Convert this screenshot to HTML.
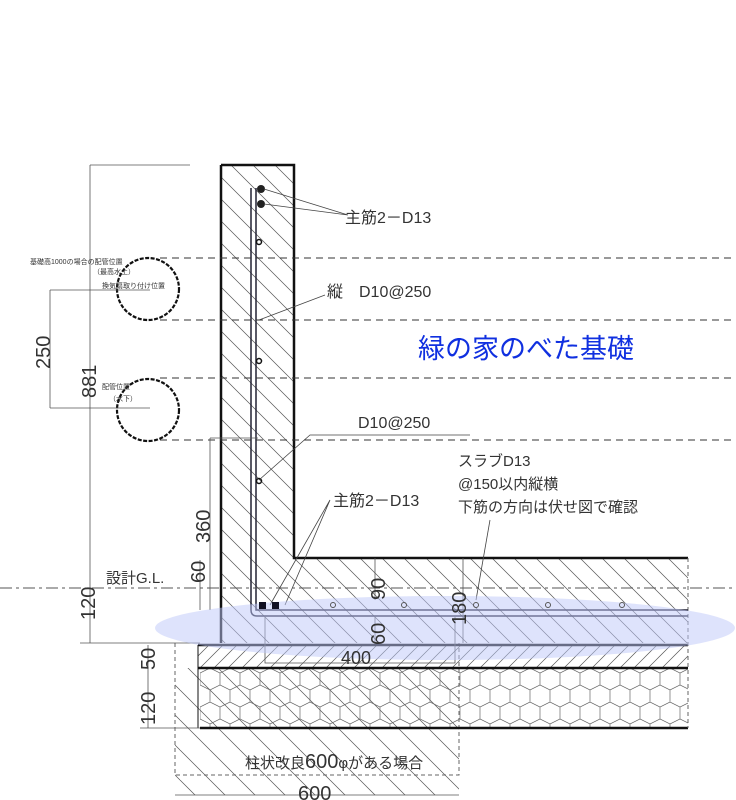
<!DOCTYPE html>
<html><head><meta charset="utf-8"><style>
html,body{margin:0;padding:0;background:#fff;}
svg{display:block;}
text{font-family:"Liberation Sans","Noto Sans CJK JP",sans-serif;fill:#333;}
</style></head><body>
<svg width="736" height="800" viewBox="0 0 736 800" xmlns="http://www.w3.org/2000/svg">
<defs>
<pattern id="hb" patternUnits="userSpaceOnUse" width="22" height="22">
<path d="M-2,-2 L24,24 M-13,9 L2,24 M9,-13 L35,13" stroke="#555" stroke-width="0.7"/>
</pattern>
<pattern id="hf" patternUnits="userSpaceOnUse" width="14" height="14">
<path d="M0,14 L14,0 M-7,7 L7,-7 M7,21 L21,7" stroke="#555" stroke-width="0.7"/>
</pattern>
<pattern id="hx" patternUnits="userSpaceOnUse" width="20" height="34" x="200" y="668">
<path d="M0,5 L10,0 L20,5 L20,17 L10,22 L0,17 Z M10,22 L10,34 M0,17 L0,5" fill="none" stroke="#666" stroke-width="0.7"/>
</pattern>
<pattern id="hc" patternUnits="userSpaceOnUse" width="30" height="30">
<path d="M0,0 L30,30 M-15,15 L0,30 M15,-15 L45,15" stroke="#555" stroke-width="0.7"/>
</pattern>
</defs>
<rect x="175" y="668" width="284" height="127" fill="url(#hc)"/>
<path d="M175,643 V775 H459 V643" fill="none" stroke="#666" stroke-dasharray="4,3"/>
<path d="M221,165 H294 V558 H688 V643 H221 Z" fill="url(#hb)"/>
<path d="M221,165 H294 V558 H688" fill="none" stroke="#111" stroke-width="2.5"/>
<line x1="221" y1="165" x2="221" y2="643" stroke="#111" stroke-width="2.5"/>
<rect x="198" y="645" width="490" height="23" fill="url(#hf)"/>
<rect x="200" y="668" width="488" height="60" fill="url(#hx)"/>
<line x1="198" y1="645" x2="688" y2="645" stroke="#111" stroke-width="2.5"/>
<line x1="198" y1="668" x2="688" y2="668" stroke="#111" stroke-width="2.5"/>
<line x1="200" y1="728" x2="688" y2="728" stroke="#111" stroke-width="2.5"/>
<line x1="198" y1="645" x2="198" y2="728" stroke="#111" stroke-width="1"/>
<line x1="688" y1="558" x2="688" y2="728" stroke="#666" stroke-dasharray="4,3"/>
<path d="M251,188 V610 Q251,616 257,616 H688" fill="none" stroke="#223" stroke-width="1.5"/>
<path d="M256,188 V610 H688" fill="none" stroke="#223" stroke-width="1.5"/>
<circle cx="261" cy="189" r="4" fill="#222"/><circle cx="261" cy="204" r="4" fill="#222"/>
<circle cx="259" cy="242" r="2.5" fill="none" stroke="#111" stroke-width="1.5"/>
<circle cx="259" cy="361" r="2.5" fill="none" stroke="#111" stroke-width="1.5"/>
<circle cx="259" cy="481" r="2.5" fill="none" stroke="#111" stroke-width="1.5"/>
<g stroke="#444" stroke-width="0.8" fill="none">
<path d="M264,189 L348,215 M264,204 L348,215"/>
<path d="M259,320 L325,295"/>
<path d="M259,480 L310,435 H470"/>
<path d="M270,605 L330,500 M285,605 L330,500"/>
<path d="M476,600 L490,520"/>
</g>
<g stroke="#333" stroke-dasharray="7,5" stroke-width="1">
<line x1="160" y1="258" x2="736" y2="258"/><line x1="160" y1="320" x2="736" y2="320"/>
<line x1="160" y1="378" x2="736" y2="378"/><line x1="160" y1="440" x2="736" y2="440"/>
</g>
<g stroke="#111" stroke-dasharray="4,1.5" stroke-width="2.2" fill="none">
<circle cx="148" cy="289" r="31"/><circle cx="148" cy="410" r="31"/>
</g>
<line x1="0" y1="588" x2="736" y2="588" stroke="#555" stroke-dasharray="12,4,3,4"/>
<g stroke="#555" stroke-width="0.8" fill="none">
<line x1="90" y1="165" x2="90" y2="643"/><line x1="90" y1="165" x2="190" y2="165"/>
<line x1="50" y1="290" x2="50" y2="408"/><line x1="50" y1="290" x2="150" y2="290"/><line x1="50" y1="408" x2="150" y2="408"/>
<line x1="210" y1="438" x2="210" y2="610"/><line x1="210" y1="438" x2="258" y2="438"/>
<line x1="80" y1="643" x2="200" y2="643"/><line x1="148" y1="645" x2="148" y2="728"/><line x1="140" y1="728" x2="200" y2="728"/>
<line x1="200" y1="560" x2="200" y2="610"/>
<line x1="375" y1="558" x2="375" y2="600"/><line x1="375" y1="616" x2="375" y2="643"/>
<line x1="463" y1="558" x2="463" y2="643"/>
<path d="M265,616 V663 H455 V616"/>
<line x1="175" y1="795" x2="459" y2="795"/>
</g>
<ellipse cx="445" cy="628" rx="290" ry="32" fill="rgb(190,200,250)" fill-opacity="0.5"/>
<rect x="259" y="602" width="7" height="7" fill="#112"/><rect x="272" y="602" width="7" height="7" fill="#112"/>
<g fill="none" stroke="#555" stroke-width="1"><circle cx="333" cy="605" r="2.5"/><circle cx="404" cy="605" r="2.5"/><circle cx="476" cy="605" r="2.5"/><circle cx="548" cy="605" r="2.5"/><circle cx="622" cy="605" r="2.5"/></g>
<text x="345" y="223" font-size="16">主筋2－D13</text>
<text x="327" y="297" font-size="16">縦　D10@250</text>
<text x="418" y="358" font-size="27" style="fill:#1030e0">緑の家のべた基礎</text>
<text x="358" y="428" font-size="16">D10@250</text>
<text x="458" y="466" font-size="15">スラブD13</text>
<text x="458" y="489" font-size="15">@150以内縦横</text>
<text x="458" y="512" font-size="15">下筋の方向は伏せ図で確認</text>
<text x="333" y="506" font-size="16">主筋2－D13</text>
<text x="106" y="583" font-size="15">設計G.L.</text>
<text x="245" y="768" font-size="15">柱状改良<tspan font-size="20">600</tspan>φがある場合</text>
<text x="298" y="800" font-size="20">600</text>
<text x="341" y="664" font-size="18">400</text>
<text x="30" y="264" font-size="7">基礎高1000の場合の配管位置</text>
<text x="93" y="274" font-size="7">（最高水上）</text>
<text x="102" y="288" font-size="7">換気扇取り付け位置</text>
<text x="102" y="389" font-size="7">配管位置</text>
<text x="109" y="401" font-size="7">（水下）</text>
<g font-size="20">
<text transform="translate(96,398) rotate(-90)">881</text>
<text transform="translate(50,369) rotate(-90)">250</text>
<text transform="translate(210,543) rotate(-90)">360</text>
<text transform="translate(205,583) rotate(-90)">60</text>
<text transform="translate(95,620) rotate(-90)">120</text>
<text transform="translate(155,670) rotate(-90)">50</text>
<text transform="translate(155,725) rotate(-90)">120</text>
<text transform="translate(385,600) rotate(-90)">90</text>
<text transform="translate(385,645) rotate(-90)">60</text>
<text transform="translate(466,625) rotate(-90)">180</text>
</g>
</svg>
</body></html>
